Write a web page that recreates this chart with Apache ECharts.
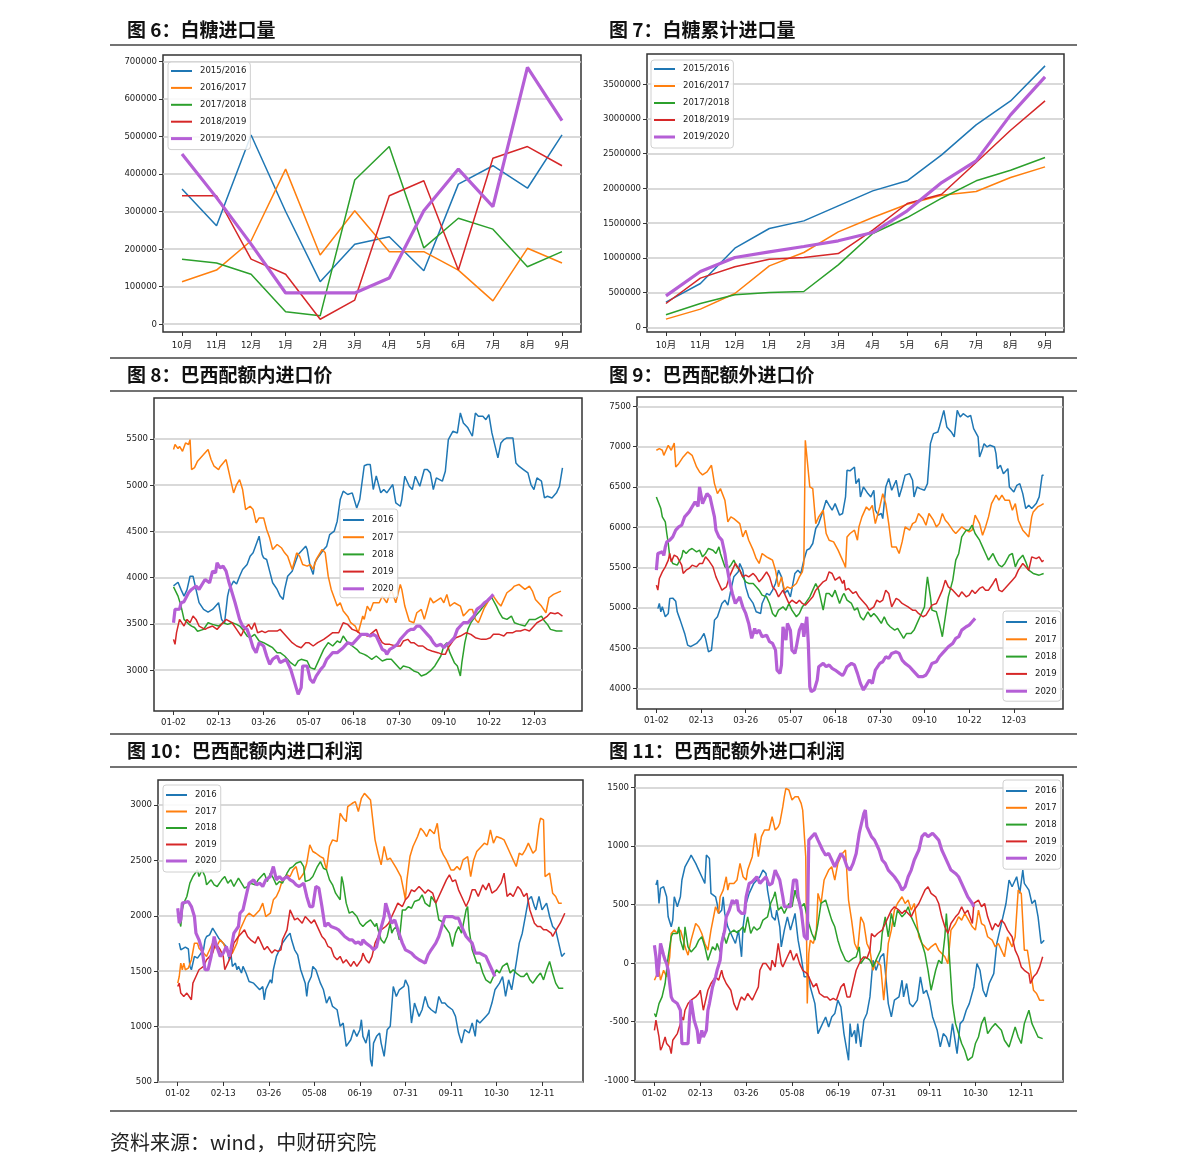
<!DOCTYPE html>
<html><head><meta charset="utf-8">
<script src="https://cdn.jsdelivr.net/npm/echarts@6/dist/echarts.min.js"></script>
<style>html,body{margin:0;padding:0;background:#fff}#c{width:1191px;height:1175px}</style>
</head><body><div id="c"></div>
<script>
// ---------- categories / tick labels ----------
const months = ['10月','11月','12月','1月','2月','3月','4月','5月','6月','7月','8月','9月'];
const seasons = ['2015/2016','2016/2017','2017/2018','2018/2019','2019/2020'];
const years = ['2016','2017','2018','2019','2020'];
const dateTicksA = ['01-02','02-13','03-26','05-07','06-18','07-30','09-10','10-22','12-03'];
const dateTicksB = ['01-02','02-13','03-26','05-08','06-19','07-31','09-11','10-30','12-11'];
const dayTickIdx = [0,30,60,90,120,150,180,210,240];
const yTicks6 = [0,100000,200000,300000,400000,500000,600000,700000];
const yTicks7 = [0,500000,1000000,1500000,2000000,2500000,3000000,3500000];
const yTicks8 = [3000,3500,4000,4500,5000,5500];
const yTicks9 = [4000,4500,5000,5500,6000,6500,7000,7500];
const yTicks10 = [500,1000,1500,2000,2500,3000];
const yTicks11 = [-1000,-500,0,500,1000,1500];

// ---------- 图6 白糖进口量 (monthly) ----------
const imp_1516 = [360000,262000,504000,300000,113000,213000,233000,142000,373000,422000,362000,504000];
const imp_1617 = [113000,144000,222000,413000,184000,302000,193000,193000,144000,62000,202000,163000];
const imp_1718 = [173000,163000,133000,33000,22000,384000,473000,203000,282000,253000,153000,193000];
const imp_1819 = [342000,342000,173000,133000,13000,64000,342000,382000,144000,442000,473000,422000];
const imp_1920 = [453000,337000,213000,83000,83000,83000,123000,302000,413000,313000,684000,542000];

// ---------- 图7 白糖累计进口量 ----------
const cum_1516 = [365000,633000,1141000,1424000,1534000,1750000,1966000,2110000,2483000,2915000,3260000,3764000];
const cum_1617 = [120000,264000,489000,887000,1079000,1376000,1582000,1774000,1903000,1956000,2158000,2311000];
const cum_1718 = [182000,345000,470000,503000,518000,901000,1352000,1582000,1860000,2110000,2263000,2445000];
const cum_1819 = [345000,710000,873000,983000,1007000,1064000,1400000,1784000,1918000,2373000,2838000,3260000];
const cum_1920 = [455000,805000,1007000,1088000,1165000,1247000,1366000,1678000,2085000,2397000,3059000,3605000];

// ---------- 图8 巴西配额内进口价 [trading-day index, value] ----------
const p8_2016 = [[0,3910],[3,3950],[5,3870],[7,3800],[9,3870],[11,4015],[13,4015],[15,3870],[17,3730],[20,3656],[23,3627],[26,3656],[30,3728],[32,3548],[34,3510],[36,3800],[37,3870],[40,3962],[42,3930],[44,4015],[46,4088],[49,4142],[51,4232],[53,4268],[55,4358],[57,4448],[59,4250],[60,4214],[62,4196],[64,4070],[66,3944],[69,3872],[71,3800],[73,3764],[74,3872],[76,4015],[79,4070],[81,4160],[83,4250],[85,4286],[88,4340],[89,4304],[91,4124],[93,4034],[94,4160],[96,4214],[100,4304],[102,4340],[104,4466],[107,4502],[109,4610],[111,4844],[113,4935],[116,4899],[119,4917],[122,4754],[124,4844],[127,5210],[129,5223],[131,5223],[133,4953],[135,5100],[138,4917],[140,4953],[142,4917],[146,5007],[148,4808],[151,4772],[152,4844],[154,5097],[157,4989],[159,4953],[161,5097],[164,4989],[167,5169],[169,5169],[171,5133],[173,4953],[175,5079],[179,5043],[181,5151],[183,5493],[186,5583],[189,5565],[191,5781],[193,5673],[196,5620],[199,5529],[201,5781],[203,5745],[206,5745],[208,5709],[210,5763],[212,5565],[216,5295],[218,5457],[220,5493],[222,5511],[226,5511],[228,5241],[230,5205],[233,5169],[236,5133],[238,5007],[240,4953],[242,5079],[245,5043],[247,4862],[249,4880],[252,4862],[255,4917],[257,4989],[259,5187]];
const p8_2017 = [[0,5385],[1,5440],[3,5395],[4,5420],[6,5367],[8,5457],[10,5440],[11,5493],[12,5169],[14,5190],[16,5260],[20,5331],[23,5385],[25,5277],[27,5205],[30,5169],[31,5200],[35,5277],[37,5133],[40,4916],[42,5007],[44,5060],[46,4953],[48,4736],[51,4772],[53,4736],[55,4592],[57,4646],[60,4646],[62,4520],[64,4430],[66,4304],[69,4358],[72,4320],[74,4268],[76,4232],[79,4088],[82,4268],[84,4232],[86,4142],[89,4124],[91,4142],[93,4088],[95,4196],[99,4304],[101,4268],[103,4016],[105,3872],[109,3692],[111,3728],[113,3638],[116,3580],[118,3512],[121,3476],[123,3404],[126,3584],[127,3548],[129,3692],[131,3640],[133,3728],[137,3728],[139,3800],[142,3728],[145,3872],[148,3728],[151,3926],[152,3872],[154,3692],[157,3530],[160,3512],[162,3620],[165,3656],[167,3548],[171,3782],[173,3728],[178,3782],[180,3728],[182,3818],[184,3692],[187,3728],[191,3692],[193,3584],[197,3656],[199,3656],[201,3548],[203,3512],[207,3674],[209,3728],[211,3782],[213,3800],[216,3728],[218,3692],[220,3764],[222,3836],[225,3872],[227,3908],[230,3926],[234,3872],[237,3908],[239,3854],[241,3764],[245,3692],[248,3620],[250,3782],[253,3818],[258,3854]];
const p8_2018 = [[0,3900],[3,3800],[5,3692],[7,3548],[10,3500],[12,3476],[14,3460],[16,3420],[20,3440],[23,3512],[26,3494],[30,3476],[33,3512],[36,3494],[39,3512],[42,3494],[44,3476],[46,3440],[49,3368],[51,3350],[54,3386],[57,3314],[60,3296],[64,3260],[66,3242],[69,3188],[71,3188],[74,3152],[78,3080],[81,3044],[83,3100],[85,3116],[89,3098],[91,3026],[94,3008],[96,3080],[100,3224],[103,3296],[106,3260],[109,3314],[111,3296],[113,3368],[116,3296],[119,3260],[122,3224],[124,3188],[127,3170],[129,3152],[132,3116],[135,3152],[139,3098],[142,3116],[145,3116],[148,3062],[151,3008],[153,3044],[157,3026],[160,2990],[163,2972],[165,2936],[168,2954],[171,2990],[174,3044],[178,3152],[180,3260],[182,3296],[184,3188],[187,3080],[189,3044],[191,2936],[192,3080],[194,3296],[196,3440],[198,3512],[201,3584],[204,3638],[208,3728],[210,3764],[212,3782],[215,3692],[217,3620],[219,3566],[222,3548],[225,3584],[227,3512],[230,3494],[234,3476],[237,3548],[241,3548],[245,3584],[247,3530],[249,3494],[251,3440],[255,3422],[259,3422]];
const p8_2019 = [[0,3332],[1,3278],[2,3404],[4,3548],[7,3476],[9,3548],[11,3512],[13,3584],[15,3548],[17,3476],[21,3440],[23,3458],[26,3476],[29,3440],[31,3476],[33,3512],[35,3548],[39,3512],[42,3440],[45,3368],[47,3440],[50,3494],[52,3440],[54,3512],[56,3404],[59,3422],[61,3404],[63,3422],[66,3422],[69,3422],[71,3440],[73,3404],[76,3350],[79,3296],[82,3260],[85,3242],[88,3296],[90,3296],[93,3260],[96,3296],[100,3332],[103,3368],[106,3404],[110,3404],[113,3512],[116,3494],[119,3440],[122,3422],[125,3386],[127,3386],[129,3368],[131,3386],[135,3440],[137,3350],[139,3296],[141,3278],[144,3278],[148,3260],[151,3260],[153,3314],[156,3332],[158,3296],[160,3296],[163,3260],[166,3260],[169,3224],[172,3206],[176,3188],[179,3170],[181,3170],[183,3242],[186,3314],[188,3350],[191,3368],[195,3404],[198,3386],[201,3350],[205,3332],[208,3332],[211,3350],[213,3386],[217,3386],[220,3368],[222,3404],[226,3404],[228,3422],[231,3422],[234,3440],[237,3422],[239,3458],[242,3512],[246,3548],[249,3584],[251,3620],[254,3610],[256,3620],[259,3584]];
const p8_2020 = [[0,3512],[1,3656],[4,3660],[5,3728],[7,3740],[10,3836],[12,3872],[15,3908],[17,3872],[21,3980],[24,3944],[26,4070],[28,4052],[29,4160],[31,4106],[33,4124],[35,4070],[37,3944],[39,3836],[41,3728],[44,3548],[46,3476],[49,3440],[51,3350],[53,3242],[55,3188],[57,3296],[60,3260],[62,3152],[64,3062],[66,3116],[69,3152],[71,3080],[73,3098],[75,3116],[78,3008],[80,2900],[82,2791],[83,2737],[85,2810],[86,3044],[89,3044],[91,2900],[93,2863],[95,2934],[98,3008],[100,3044],[102,3116],[104,3152],[106,3188],[109,3188],[113,3242],[116,3296],[119,3278],[122,3332],[125,3386],[129,3386],[131,3368],[133,3386],[135,3368],[137,3296],[139,3224],[141,3206],[142,3170],[144,3224],[146,3242],[149,3278],[151,3332],[153,3368],[156,3422],[158,3440],[160,3440],[162,3476],[164,3476],[167,3422],[169,3386],[171,3350],[173,3296],[175,3260],[178,3278],[180,3242],[182,3278],[184,3296],[187,3350],[189,3440],[191,3476],[193,3512],[196,3512],[198,3548],[200,3584],[202,3656],[205,3692],[207,3728],[209,3750],[211,3782],[213,3818]];

// ---------- 图9 巴西配额外进口价 ----------
const p9_2016 = [[1,4990],[2,5054],[3,4950],[4,5012],[6,4889],[8,4930],[9,5115],[11,5120],[13,5080],[14,4950],[16,4847],[19,4682],[21,4537],[23,4517],[27,4558],[30,4620],[32,4682],[33,4620],[35,4454],[37,4475],[38,4641],[39,4847],[41,4889],[44,5054],[46,5095],[48,5033],[50,5219],[52,5384],[55,5446],[56,5550],[58,5467],[60,5260],[62,5136],[65,5054],[67,4950],[70,4930],[71,5054],[74,5178],[76,5157],[78,5219],[80,5302],[82,5467],[84,5384],[86,5178],[88,5219],[90,5136],[93,5426],[95,5467],[97,5426],[99,5591],[101,5715],[103,5736],[105,5798],[107,5984],[109,6045],[112,6211],[114,6335],[116,6272],[118,6211],[120,6293],[123,6150],[125,6170],[127,6376],[128,6707],[130,6700],[133,6748],[134,6541],[136,6604],[137,6376],[139,6500],[142,6417],[144,6376],[146,6459],[147,6211],[149,6150],[151,6170],[152,6107],[154,6500],[156,6604],[158,6459],[161,6583],[163,6376],[165,6500],[167,6646],[170,6665],[172,6583],[173,6376],[175,6500],[177,6479],[180,6459],[182,6541],[184,7037],[186,7161],[189,7182],[190,7244],[193,7450],[195,7244],[198,7182],[200,7120],[202,7450],[204,7368],[206,7409],[209,7368],[211,7388],[213,7223],[216,7120],[217,6872],[219,6975],[220,7037],[222,6996],[224,7017],[227,6996],[228,6913],[229,6727],[231,6768],[233,6665],[236,6727],[237,6500],[240,6438],[242,6520],[244,6541],[246,6417],[248,6231],[250,6272],[252,6231],[255,6293],[257,6376],[259,6644],[260,6644]];
const p9_2017 = [[0,6955],[2,6975],[4,6955],[5,6892],[8,7017],[10,6955],[12,7045],[13,6748],[15,6789],[18,6872],[21,6934],[24,6892],[27,6748],[29,6686],[31,6650],[34,6686],[37,6769],[39,6541],[41,6417],[43,6479],[46,6335],[48,6066],[50,6128],[52,6107],[56,6045],[58,5880],[60,5963],[62,5839],[65,5715],[67,5612],[69,5550],[71,5674],[74,5632],[76,5612],[78,5591],[80,5467],[82,5260],[84,5384],[86,5219],[88,5260],[90,5240],[94,5302],[96,5384],[98,5446],[99,5550],[100,7079],[103,6500],[105,6479],[107,6045],[109,6128],[112,6211],[114,5922],[116,5839],[119,5818],[122,5715],[124,5632],[126,5550],[127,5500],[128,5880],[130,5922],[133,5963],[135,5839],[136,6004],[138,6128],[141,6252],[143,6211],[145,6272],[147,6045],[150,6252],[152,6417],[154,6293],[156,6045],[158,5756],[161,5756],[163,5674],[165,5818],[167,6004],[170,5963],[172,6045],[174,6066],[176,6170],[179,6107],[181,6024],[183,6170],[186,6087],[188,6004],[190,6045],[192,6170],[194,6087],[196,6045],[199,5963],[201,5922],[203,5963],[205,6004],[208,5963],[210,5942],[212,5963],[214,6149],[217,6045],[219,5901],[221,6004],[223,6128],[225,6293],[228,6397],[230,6335],[232,6397],[234,6335],[237,6335],[239,6211],[241,6293],[243,6087],[246,5963],[248,5922],[250,5880],[252,6128],[253,6190],[256,6252],[258,6272],[260,6293]];
const p9_2018 = [[0,6376],[1,6355],[3,6231],[4,6128],[6,6066],[7,5922],[8,5798],[9,5632],[11,5550],[12,5550],[14,5529],[17,5632],[18,5715],[20,5674],[22,5715],[24,5736],[27,5694],[29,5715],[31,5632],[33,5674],[35,5736],[38,5715],[40,5674],[42,5756],[43,5674],[46,5508],[48,5488],[50,5529],[52,5591],[54,5508],[56,5467],[58,5384],[60,5322],[62,5302],[65,5302],[67,5260],[69,5219],[71,5157],[74,5136],[76,5054],[78,4930],[80,4889],[82,4971],[85,5012],[87,4971],[89,5054],[91,4971],[94,4889],[96,4930],[98,5012],[100,5054],[103,5136],[105,5219],[107,5302],[109,5219],[112,4971],[114,5178],[116,5178],[118,5136],[120,5219],[123,5054],[125,5150],[126,5178],[128,5095],[131,5054],[133,4971],[135,5000],[137,4889],[139,4847],[142,4950],[144,4889],[146,4930],[148,4889],[151,4806],[153,4889],[155,4806],[157,4765],[160,4723],[162,4744],[164,4682],[166,4620],[168,4682],[171,4682],[173,4723],[175,4806],[177,4889],[180,5012],[181,5219],[182,5384],[184,5136],[185,4971],[188,4950],[190,4806],[192,4641],[194,4889],[196,5136],[199,5343],[201,5591],[203,5674],[205,5880],[208,5963],[210,5963],[212,6025],[214,5922],[217,5839],[219,5756],[221,5674],[223,5591],[226,5674],[228,5591],[230,5529],[232,5508],[234,5550],[237,5653],[239,5674],[241,5508],[243,5591],[246,5653],[248,5570],[250,5467],[253,5426],[257,5405],[260,5426]];
const p9_2019 = [[0,5281],[1,5219],[2,5364],[4,5446],[6,5508],[8,5591],[9,5674],[10,5570],[12,5653],[14,5632],[17,5529],[18,5426],[20,5467],[22,5488],[24,5529],[27,5508],[29,5550],[31,5550],[33,5632],[35,5591],[38,5508],[40,5384],[42,5302],[44,5219],[47,5260],[49,5384],[51,5467],[53,5550],[56,5467],[58,5384],[60,5405],[62,5384],[65,5426],[67,5384],[69,5322],[71,5364],[74,5446],[76,5384],[78,5260],[80,5219],[82,5136],[85,5219],[87,5136],[89,5054],[91,5095],[94,5054],[96,5095],[98,5054],[100,5033],[103,5095],[105,5136],[107,5219],[109,5260],[112,5322],[114,5343],[116,5446],[118,5426],[120,5343],[123,5384],[125,5302],[126,5343],[127,5219],[129,5240],[132,5178],[134,5200],[136,5136],[138,5095],[141,5033],[143,4971],[146,5012],[148,5095],[150,5070],[152,5095],[154,5219],[156,5178],[158,5012],[161,5116],[163,5095],[165,5054],[167,5033],[169,5012],[172,4971],[174,4971],[176,4930],[179,4889],[181,4910],[183,4971],[185,5033],[188,5054],[190,5136],[192,5219],[194,5343],[196,5260],[199,5219],[201,5178],[203,5136],[205,5198],[208,5136],[210,5157],[212,5219],[214,5178],[217,5240],[219,5260],[221,5219],[223,5219],[226,5302],[228,5364],[230,5219],[232,5200],[234,5240],[237,5302],[239,5343],[241,5384],[243,5467],[246,5550],[248,5508],[250,5467],[252,5632],[255,5610],[257,5632],[259,5570],[260,5590]];
const p9_2020 = [[0,5467],[1,5674],[2,5650],[4,5694],[5,5650],[6,5756],[7,5818],[9,5839],[11,5880],[13,5963],[15,6004],[17,6025],[19,6128],[22,6190],[24,6252],[26,6314],[27,6335],[28,6260],[29,6500],[31,6293],[32,6335],[34,6417],[36,6376],[37,6293],[39,6128],[40,5963],[42,5880],[44,5839],[46,5674],[47,5550],[49,5343],[51,5178],[53,5054],[56,5136],[58,5012],[60,4930],[62,4806],[64,4620],[66,4744],[67,4682],[69,4723],[71,4641],[74,4660],[76,4579],[78,4558],[80,4475],[81,4227],[83,4186],[84,4290],[85,4765],[87,4599],[88,4806],[90,4720],[91,4475],[93,4434],[94,4517],[96,4723],[98,4806],[99,4641],[101,4889],[102,4558],[103,4021],[104,3959],[106,3980],[108,4104],[109,4269],[112,4310],[114,4269],[116,4290],[118,4248],[120,4227],[123,4186],[125,4160],[126,4186],[128,4269],[131,4310],[133,4290],[135,4186],[137,4062],[139,3980],[141,4040],[143,4104],[145,4062],[147,4227],[150,4310],[152,4330],[154,4393],[156,4372],[158,4434],[161,4454],[163,4434],[165,4351],[167,4310],[170,4269],[172,4227],[174,4186],[176,4145],[179,4145],[181,4166],[183,4227],[185,4310],[188,4331],[190,4393],[192,4434],[194,4475],[196,4517],[199,4558],[201,4620],[203,4641],[205,4723],[208,4765],[210,4785],[212,4827],[214,4868]];

// ---------- 图10 巴西配额内进口利润 ----------
const p10_2016 = [[1,1753],[2,1693],[3,1693],[5,1717],[7,1700],[8,1543],[9,1513],[10,1513],[11,1633],[13,1618],[14,1633],[17,1693],[18,1783],[19,1813],[21,1828],[23,1888],[25,1843],[27,1798],[30,1753],[32,1723],[34,1603],[35,1663],[36,1543],[38,1573],[39,1513],[40,1543],[42,1483],[43,1543],[45,1483],[47,1407],[50,1392],[52,1362],[54,1332],[56,1362],[57,1242],[58,1332],[61,1422],[62,1392],[63,1513],[65,1633],[67,1693],[69,1753],[72,1813],[74,1843],[75,1783],[77,1693],[79,1648],[81,1513],[84,1392],[85,1272],[86,1392],[88,1452],[89,1543],[91,1513],[94,1392],[96,1332],[98,1212],[100,1272],[102,1182],[105,1152],[107,1002],[109,1032],[111,821],[114,881],[116,972],[118,912],[120,972],[121,1062],[122,912],[124,851],[126,972],[127,701],[128,641],[129,851],[131,912],[133,942],[134,851],[136,731],[138,972],[140,1002],[142,1362],[144,1272],[146,1332],[149,1362],[150,1422],[152,1362],[154,1032],[155,1017],[156,1212],[159,1092],[161,1152],[163,1272],[165,1182],[167,1152],[170,1122],[172,1272],[174,1212],[176,1212],[178,1182],[181,1152],[183,1092],[185,942],[187,851],[189,972],[192,942],[194,1032],[196,912],[197,1062],[199,1032],[203,1092],[205,1122],[207,1212],[209,1332],[212,1392],[214,1452],[216,1272],[218,1422],[220,1332],[223,1573],[225,1753],[227,1843],[229,1993],[231,2144],[233,2174],[235,2083],[236,2053],[238,2174],[240,2053],[243,2114],[245,1993],[247,1903],[249,1873],[251,1753],[253,1633],[255,1663]];
const p10_2017 = [[0,1392],[1,1452],[2,1573],[3,1513],[4,1573],[5,1513],[7,1528],[9,1603],[11,1753],[13,1753],[14,1708],[17,1663],[19,1633],[21,1693],[23,1753],[25,1708],[28,1783],[30,1753],[32,1693],[34,1633],[36,1663],[39,1753],[41,1873],[43,1933],[45,1993],[47,2023],[50,1993],[52,2023],[54,2053],[56,2114],[58,1993],[61,2023],[63,2144],[65,2174],[67,2234],[69,2324],[72,2369],[74,2354],[76,2414],[78,2444],[80,2324],[83,2384],[85,2474],[87,2640],[89,2580],[91,2564],[94,2534],[96,2519],[98,2414],[100,2625],[102,2685],[105,2670],[107,2925],[109,2880],[111,2850],[112,2985],[115,3015],[117,3030],[119,2940],[121,3060],[123,3105],[125,3075],[127,3045],[129,2805],[130,2685],[132,2564],[134,2459],[136,2625],[138,2504],[140,2520],[142,2474],[144,2429],[147,2354],[149,2219],[150,2144],[151,2324],[153,2534],[155,2625],[158,2715],[160,2790],[162,2760],[164,2715],[166,2780],[169,2740],[171,2835],[173,2610],[175,2549],[177,2504],[180,2414],[182,2414],[184,2444],[186,2414],[188,2504],[191,2534],[193,2354],[195,2504],[197,2579],[199,2610],[202,2655],[204,2640],[206,2775],[208,2655],[210,2715],[213,2700],[215,2685],[217,2625],[219,2564],[221,2504],[223,2444],[225,2564],[227,2549],[229,2594],[231,2655],[234,2564],[236,2594],[238,2820],[239,2880],[241,2865],[242,2354],[245,2384],[247,2204],[249,2174],[251,2114],[253,2114]];
const p10_2018 = [[1,1963],[2,1903],[3,2053],[4,2114],[6,2174],[8,2294],[10,2354],[11,2369],[13,2414],[14,2354],[16,2414],[18,2354],[19,2279],[20,2294],[22,2324],[24,2279],[26,2264],[29,2324],[31,2354],[33,2294],[35,2324],[37,2264],[40,2339],[42,2294],[44,2249],[46,2264],[48,2294],[51,2279],[53,2324],[55,2354],[57,2384],[59,2309],[61,2384],[63,2339],[65,2279],[67,2309],[69,2294],[72,2384],[74,2429],[76,2444],[78,2474],[81,2489],[83,2444],[84,2309],[87,2324],[89,2354],[92,2444],[94,2489],[96,2429],[98,2414],[100,2324],[102,2279],[104,2204],[107,2144],[108,2354],[109,2294],[111,2114],[113,2023],[115,2038],[118,1993],[120,1933],[122,1903],[124,1933],[127,1963],[130,1903],[131,1933],[132,1873],[134,1783],[136,1753],[138,1813],[140,1933],[141,1843],[142,1873],[144,1903],[146,1783],[148,2053],[150,2053],[152,2083],[154,2068],[156,2129],[159,2144],[161,2189],[163,2114],[166,2083],[167,2174],[170,2114],[172,1963],[174,1948],[176,1903],[179,1843],[181,1723],[183,1843],[185,1903],[187,1843],[190,2053],[191,2083],[192,1873],[194,1693],[197,1573],[199,1573],[201,1483],[203,1422],[206,1392],[208,1452],[210,1513],[212,1483],[214,1543],[217,1573],[219,1483],[221,1513],[223,1483],[226,1452],[228,1452],[230,1483],[232,1422],[234,1392],[237,1452],[239,1483],[241,1422],[243,1513],[245,1588],[247,1483],[249,1392],[251,1347],[254,1347]];
const p10_2019 = [[0,1362],[1,1392],[2,1302],[4,1272],[6,1302],[7,1287],[9,1242],[10,1392],[12,1452],[14,1513],[17,1543],[19,1603],[21,1633],[23,1663],[25,1753],[28,1693],[30,1633],[31,1513],[33,1573],[35,1633],[37,1753],[40,1813],[42,1843],[44,1873],[46,1813],[48,1783],[51,1753],[53,1813],[55,1753],[57,1693],[59,1723],[62,1663],[64,1693],[66,1678],[68,1693],[69,1783],[72,1873],[74,2053],[75,2038],[77,1963],[79,1978],[82,1933],[84,1993],[86,1963],[88,1933],[90,1963],[93,1873],[95,1813],[97,1783],[99,1723],[101,1708],[103,1633],[105,1603],[107,1633],[109,1573],[111,1603],[114,1543],[116,1588],[118,1543],[121,1603],[122,1663],[124,1603],[126,1573],[128,1633],[130,1753],[132,1813],[134,1873],[137,1903],[139,1933],[141,1993],[143,2053],[145,2114],[148,2083],[150,2144],[152,2174],[154,2234],[156,2219],[159,2264],[161,2234],[163,2204],[165,2234],[168,2204],[170,2114],[172,2174],[174,2234],[177,2324],[179,2369],[181,2309],[183,2324],[185,2234],[187,2174],[190,2083],[192,2144],[194,2234],[196,2234],[198,2174],[201,2279],[203,2234],[205,2294],[207,2204],[210,2234],[213,2294],[215,2384],[217,2174],[219,2204],[221,2174],[224,2264],[226,2234],[228,2174],[230,2204],[232,2053],[235,1933],[237,1903],[239,1903],[241,1873],[243,1873],[246,1843],[247,1813],[250,1888],[252,1933],[255,2023]];
const p10_2020 = [[0,2068],[1,1933],[2,1963],[3,2114],[4,2129],[7,2129],[9,2083],[11,1993],[12,1843],[14,1783],[16,1693],[18,1513],[20,1513],[22,1633],[24,1813],[25,1753],[28,1633],[30,1663],[32,1723],[34,1633],[35,1693],[37,1843],[40,1903],[41,2023],[43,2053],[45,2174],[47,2294],[50,2324],[52,2279],[54,2294],[56,2264],[58,2324],[61,2354],[63,2444],[65,2324],[67,2354],[69,2324],[72,2354],[74,2324],[76,2309],[78,2279],[80,2264],[83,2294],[85,2174],[87,2083],[89,2083],[91,2264],[93,2249],[95,2083],[97,1903],[99,1933],[101,1903],[104,1888],[106,1873],[108,1843],[110,1813],[113,1783],[115,1783],[117,1753],[119,1763],[121,1738],[122,1783],[124,1753],[127,1723],[129,1693],[131,1720],[133,1843],[136,1993],[137,2114],[139,2023],[141,1933],[143,1963],[145,1873],[148,1753],[150,1693],[152,1678],[154,1663],[156,1633],[159,1603],[161,1588],[163,1573],[165,1648],[167,1693],[170,1753],[172,1813],[174,1903],[176,1993],[179,1993],[181,1993],[183,1978],[185,1978],[187,1903],[190,1813],[192,1783],[194,1753],[196,1663],[199,1663],[201,1648],[203,1633],[205,1573],[207,1513],[209,1452]];

// ---------- 图11 巴西配额外进口利润 ----------
const p11_2016 = [[1,666],[2,709],[3,509],[4,638],[6,652],[7,666],[8,566],[9,395],[11,310],[12,367],[13,566],[15,481],[17,566],[18,709],[20,822],[21,808],[23,893],[24,922],[27,851],[29,794],[31,737],[33,680],[34,922],[36,893],[37,595],[40,566],[41,509],[42,424],[44,452],[45,566],[46,424],[48,310],[51,225],[53,168],[55,282],[57,54],[58,310],[60,509],[62,595],[65,680],[67,709],[69,737],[71,794],[73,765],[74,623],[77,395],[79,367],[80,452],[82,310],[83,139],[85,282],[87,395],[89,282],[92,424],[94,196],[96,54],[98,-117],[101,-117],[102,-203],[105,-345],[107,-601],[109,-544],[112,-459],[114,-544],[116,-459],[118,-430],[120,-316],[122,-373],[124,-601],[127,-829],[128,-516],[129,-630],[131,-573],[132,-686],[133,-516],[135,-715],[137,-487],[139,-430],[141,-288],[143,25],[145,-61],[148,54],[150,82],[153,-345],[155,-459],[157,-316],[160,-288],[162,-146],[163,-288],[165,-174],[167,-345],[169,-373],[172,-316],[174,-117],[176,-259],[178,-231],[180,-316],[182,-459],[185,-573],[187,-715],[189,-601],[191,-630],[193,-715],[195,-516],[198,-772],[200,-516],[202,-487],[204,-402],[206,-345],[209,-203],[211,-4],[213,-61],[215,-231],[217,-288],[219,-174],[222,-89],[224,168],[226,282],[228,395],[230,509],[232,709],[234,652],[237,737],[239,595],[241,794],[242,680],[245,623],[247,509],[249,538],[251,395],[253,168],[255,196]];
const p11_2017 = [[0,-146],[1,-117],[3,-61],[4,-146],[6,-61],[8,-117],[10,54],[11,253],[13,282],[15,253],[17,282],[19,196],[20,139],[22,68],[24,196],[27,338],[29,310],[31,253],[33,168],[35,111],[37,282],[40,481],[42,424],[43,566],[45,623],[47,737],[48,623],[49,680],[52,680],[54,709],[56,851],[58,737],[60,709],[61,794],[64,908],[66,1108],[68,908],[70,1079],[72,1136],[75,1136],[77,1249],[79,1136],[81,1164],[82,1193],[84,1335],[85,1420],[86,1491],[88,1477],[90,1392],[92,1420],[94,1420],[96,1363],[97,1306],[99,908],[100,-345],[101,82],[102,196],[104,168],[106,282],[107,595],[109,509],[111,709],[114,794],[116,822],[118,709],[120,851],[122,908],[123,936],[125,965],[127,538],[129,367],[131,168],[133,111],[135,395],[137,340],[139,168],[141,111],[143,-61],[145,25],[148,-20],[150,-316],[151,-174],[153,168],[155,282],[157,452],[159,509],[162,566],[164,509],[166,538],[168,452],[170,509],[173,225],[175,168],[177,139],[179,111],[181,139],[184,168],[186,111],[188,82],[190,54],[192,-4],[194,282],[197,338],[199,395],[201,367],[203,424],[205,380],[208,310],[210,282],[212,452],[214,338],[216,320],[218,225],[221,196],[223,139],[225,168],[227,111],[229,54],[231,225],[234,139],[236,225],[238,623],[240,595],[242,111],[244,111],[246,-61],[248,-231],[250,-259],[252,-316],[255,-316]];
const p11_2018 = [[0,-430],[1,-459],[3,-345],[5,-288],[7,-174],[9,54],[11,225],[12,253],[15,253],[16,310],[17,196],[19,111],[20,310],[22,139],[24,96],[27,139],[29,196],[31,225],[33,139],[35,25],[38,139],[40,111],[41,168],[43,96],[45,253],[47,168],[49,253],[52,282],[54,260],[56,282],[58,310],[59,260],[61,395],[63,253],[65,310],[67,282],[69,300],[71,367],[74,395],[76,509],[78,566],[79,609],[81,452],[83,481],[85,424],[88,509],[90,481],[92,623],[93,566],[95,509],[96,481],[98,509],[101,338],[103,253],[105,196],[107,338],[109,509],[112,538],[114,452],[116,367],[118,310],[120,196],[122,111],[124,54],[125,25],[127,11],[130,40],[132,54],[134,139],[135,-4],[138,54],[141,25],[143,-32],[146,54],[148,111],[149,253],[151,395],[153,225],[155,424],[157,310],[159,452],[162,395],[164,424],[166,481],[168,395],[170,338],[173,253],[175,168],[177,82],[179,-61],[181,-231],[184,-61],[186,25],[188,-4],[190,225],[191,424],[193,54],[195,-345],[197,-516],[199,-601],[201,-686],[203,-743],[205,-829],[208,-800],[210,-686],[212,-630],[214,-516],[216,-459],[218,-601],[221,-544],[223,-516],[225,-544],[227,-573],[229,-658],[232,-715],[234,-630],[236,-544],[238,-630],[240,-686],[242,-516],[245,-402],[247,-516],[249,-573],[251,-630],[254,-644]];
const p11_2019 = [[0,-573],[1,-487],[3,-630],[4,-743],[5,-715],[7,-630],[8,-686],[10,-715],[11,-772],[12,-658],[15,-601],[17,-516],[18,-459],[19,-487],[20,-402],[22,-345],[24,-316],[27,-288],[29,-259],[30,-231],[31,-316],[32,-402],[33,-345],[35,-231],[37,-174],[40,-117],[42,-146],[44,-61],[45,-117],[47,-174],[50,-231],[52,-345],[54,-402],[56,-316],[57,-288],[59,-316],[61,-259],[64,-316],[66,-259],[68,-203],[69,-61],[71,-4],[73,-4],[76,-61],[77,25],[79,-32],[81,168],[83,-4],[84,-32],[87,54],[89,111],[91,25],[93,82],[95,-4],[97,-61],[100,-89],[102,-146],[104,-203],[106,-174],[108,-259],[111,-288],[113,-288],[115,-316],[117,-300],[119,-316],[122,-203],[124,-174],[126,-288],[128,-288],[130,-174],[132,-61],[135,25],[137,54],[139,40],[141,111],[142,253],[144,225],[146,253],[149,282],[151,338],[153,395],[155,452],[157,481],[160,452],[162,424],[164,452],[166,424],[168,395],[170,452],[173,509],[175,566],[177,623],[179,652],[181,595],[184,566],[186,509],[188,395],[190,310],[192,253],[194,338],[197,395],[199,424],[201,481],[203,424],[205,452],[208,338],[209,509],[212,538],[214,481],[216,509],[218,395],[221,282],[223,338],[225,310],[227,367],[229,338],[231,282],[234,225],[236,111],[238,54],[240,-32],[242,-61],[245,-89],[246,-174],[248,-117],[250,-89],[252,-32],[254,54]];
const p11_2020 = [[0,153],[1,54],[2,-117],[3,-4],[4,168],[6,68],[7,25],[8,-4],[9,-61],[11,-288],[12,-316],[15,-345],[17,-402],[18,-686],[20,-686],[22,-686],[23,-459],[24,-316],[26,-487],[28,-573],[29,-686],[31,-573],[32,-630],[34,-573],[35,-402],[36,-345],[38,-203],[40,-117],[41,-61],[43,25],[44,168],[46,282],[47,395],[49,452],[51,538],[52,509],[54,538],[55,452],[57,424],[59,424],[60,566],[62,680],[64,694],[65,680],[67,737],[69,680],[71,709],[73,737],[75,666],[77,680],[79,794],[80,765],[82,709],[84,566],[85,481],[87,481],[89,481],[91,709],[93,709],[94,566],[96,452],[98,230],[100,200],[101,1050],[103,1079],[105,1108],[107,1050],[110,965],[112,922],[114,936],[116,880],[118,822],[120,880],[122,936],[124,900],[126,822],[128,794],[130,851],[132,936],[134,1108],[136,1221],[137,1278],[138,1306],[139,1164],[141,1108],[142,1079],[144,1050],[147,965],[149,880],[151,851],[153,794],[155,765],[157,737],[160,680],[162,623],[164,652],[166,737],[168,794],[170,880],[173,965],[175,1079],[177,1108],[179,1079],[182,1108],[184,1079],[186,1050],[188,965],[190,908],[192,851],[194,794],[197,765],[199,737],[201,680],[203,623],[205,566],[208,509],[209,481]];

// ---------- styling / layout ----------
const COLORS = ['#1f77b4','#ff7f0e','#2ca02c','#d62728','#b55fd6'];
const WIDTHS = [1.5,1.5,1.5,1.5,3.2];
const ICONS = ['path://M0,0L21,0L21,2L0,2Z','path://M0,0L21,0L21,2L0,2Z','path://M0,0L21,0L21,2L0,2Z','path://M0,0L21,0L21,2L0,2Z','path://M0,0L21,0L21,3L0,3Z'];
const F = "'DejaVu Sans Condensed','Noto Sans CJK SC',sans-serif";
const TF = "'Noto Sans CJK SC','Noto Sans CJK JP',sans-serif";
const FS = 9.5;

const panels = [
  {grid:{left:163,top:55,width:418,height:277}, x:[-0.55,11.55], y:[-21000,717000], yt:yTicks6, xt:[0,1,2,3,4,5,6,7,8,9,10,11], xl:months, names:seasons, xm:9,
   data:[imp_1516,imp_1617,imp_1718,imp_1819,imp_1920].map(a=>a.map((v,i)=>[i,v])),
   legend:{left:168,top:62,pad:[3,4,5,3],gap:4.9}, title:'图 6：白糖进口量', tx:127, ty:20.5},
  {grid:{left:647,top:54,width:417,height:278}, x:[-0.55,11.55], y:[-65000,3935000], yt:yTicks7, xt:[0,1,2,3,4,5,6,7,8,9,10,11], xl:months, names:seasons, xm:9,
   data:[cum_1516,cum_1617,cum_1718,cum_1819,cum_1920].map(a=>a.map((v,i)=>[i,v])),
   legend:{left:651,top:60,pad:[3,4,5,3],gap:5}, title:'图 7：白糖累计进口量', tx:609, ty:20.5},
  {grid:{left:154,top:398,width:428,height:313}, x:[-13,272], y:[2557,5943], yt:yTicks8, xt:dayTickIdx, xl:dateTicksA, names:years, xm:7,
   data:[p8_2016,p8_2017,p8_2018,p8_2019,p8_2020],
   legend:{left:340,top:509,pad:[5,4,3,3],gap:5.2}, title:'图 8：巴西配额内进口价', tx:127, ty:365.5},
  {grid:{left:637,top:397,width:426,height:312}, x:[-13,273], y:[3744,7616], yt:yTicks9, xt:dayTickIdx, xl:dateTicksA, names:years, xm:7,
   data:[p9_2016,p9_2017,p9_2018,p9_2019,p9_2020],
   legend:{left:1003,top:611,pad:[5,4,4,3],gap:5.3}, title:'图 9：巴西配额外进口价', tx:609, ty:365.5},
  {grid:{left:158,top:780,width:425,height:302}, x:[-13,267], y:[500,3225], yt:yTicks10, xt:dayTickIdx, xl:dateTicksB, names:years, xm:7,
   data:[p10_2016,p10_2017,p10_2018,p10_2019,p10_2020],
   legend:{left:163,top:785,pad:[4,4,5,3],gap:4.5}, title:'图 10：巴西配额内进口利润', tx:127, ty:741.5},
  {grid:{left:635,top:775,width:428,height:307}, x:[-12.7,267.3], y:[-1014,1605], yt:yTicks11, xt:dayTickIdx, xl:dateTicksB, names:years, xm:7,
   data:[p11_2016,p11_2017,p11_2018,p11_2019,p11_2020],
   legend:{left:1003,top:780,pad:[5,4,5,3],gap:4.8}, title:'图 11：巴西配额外进口利润', tx:609, ty:741.5}
];

const grid=[], xAxis=[], yAxis=[], series=[], legend=[], title=[];
panels.forEach((p,gi)=>{
  grid.push(Object.assign({show:true,borderColor:'#333',borderWidth:1.5,backgroundColor:'#fff'},p.grid));
  xAxis.push({type:'value',gridIndex:gi,min:p.x[0],max:p.x[1],position:'bottom',
    axisLine:{show:false,onZero:false},splitLine:{show:false},
    axisTick:{show:true,customValues:p.xt,length:4,lineStyle:{color:'#333',width:1}},
    axisLabel:{customValues:p.xt,formatter:(v)=>p.xl[p.xt.indexOf(v)],fontSize:FS,color:'#222',margin:p.xm,fontFamily:F}});
  yAxis.push({type:'value',gridIndex:gi,min:p.y[0],max:p.y[1],position:'left',
    axisLine:{show:false,onZero:false},
    axisTick:{show:true,customValues:p.yt,length:4,lineStyle:{color:'#333',width:1}},
    axisLabel:{customValues:p.yt,formatter:(v)=>String(v),fontSize:FS,color:'#222',margin:6,fontFamily:F},
    splitLine:{show:true,lineStyle:{color:'#cccccc',width:1.5}}});
  p.data.forEach((d,k)=>{
    series.push({type:'line',name:p.names[k],xAxisIndex:gi,yAxisIndex:gi,data:d,
      symbol:'none',showSymbol:false,smooth:false,animation:false,silent:true,
      lineStyle:{color:COLORS[k],width:WIDTHS[k]},itemStyle:{color:COLORS[k]}});
  });
  legend.push({show:true,orient:'vertical',left:p.legend.left,top:p.legend.top,padding:p.legend.pad,
    itemGap:p.legend.gap,itemWidth:21,itemHeight:12,selectedMode:false,
    data:p.names.map((n,k)=>({name:n,icon:ICONS[k],itemStyle:{color:COLORS[k]}})),
    backgroundColor:'rgba(255,255,255,0.85)',borderColor:'#d0d0d0',borderWidth:1,borderRadius:3,
    textStyle:{fontSize:FS,color:'#222',fontFamily:F,lineHeight:12,padding:[0,0,0,3]}});
  title.push({text:p.title,left:p.tx,top:p.ty,padding:0,
    textStyle:{fontSize:19,fontWeight:'bold',color:'#111',fontFamily:TF}});
});

const rules=[45,358,391,734,767,1111];
const graphic = rules.map(y=>({type:'line',silent:true,shape:{x1:110,y1:y,x2:1077,y2:y},style:{stroke:'#444',lineWidth:1.5},z:100}));
graphic.push({type:'text',left:110,top:1132,silent:true,style:{text:'资料来源：wind，中财研究院',font:"20px "+TF,fill:'#222'}});

const chart = echarts.init(document.getElementById('c'),null,{renderer:'canvas'});
chart.setOption({animation:false,backgroundColor:'#fff',grid,xAxis,yAxis,series,legend,title,graphic});
</script></body></html>
